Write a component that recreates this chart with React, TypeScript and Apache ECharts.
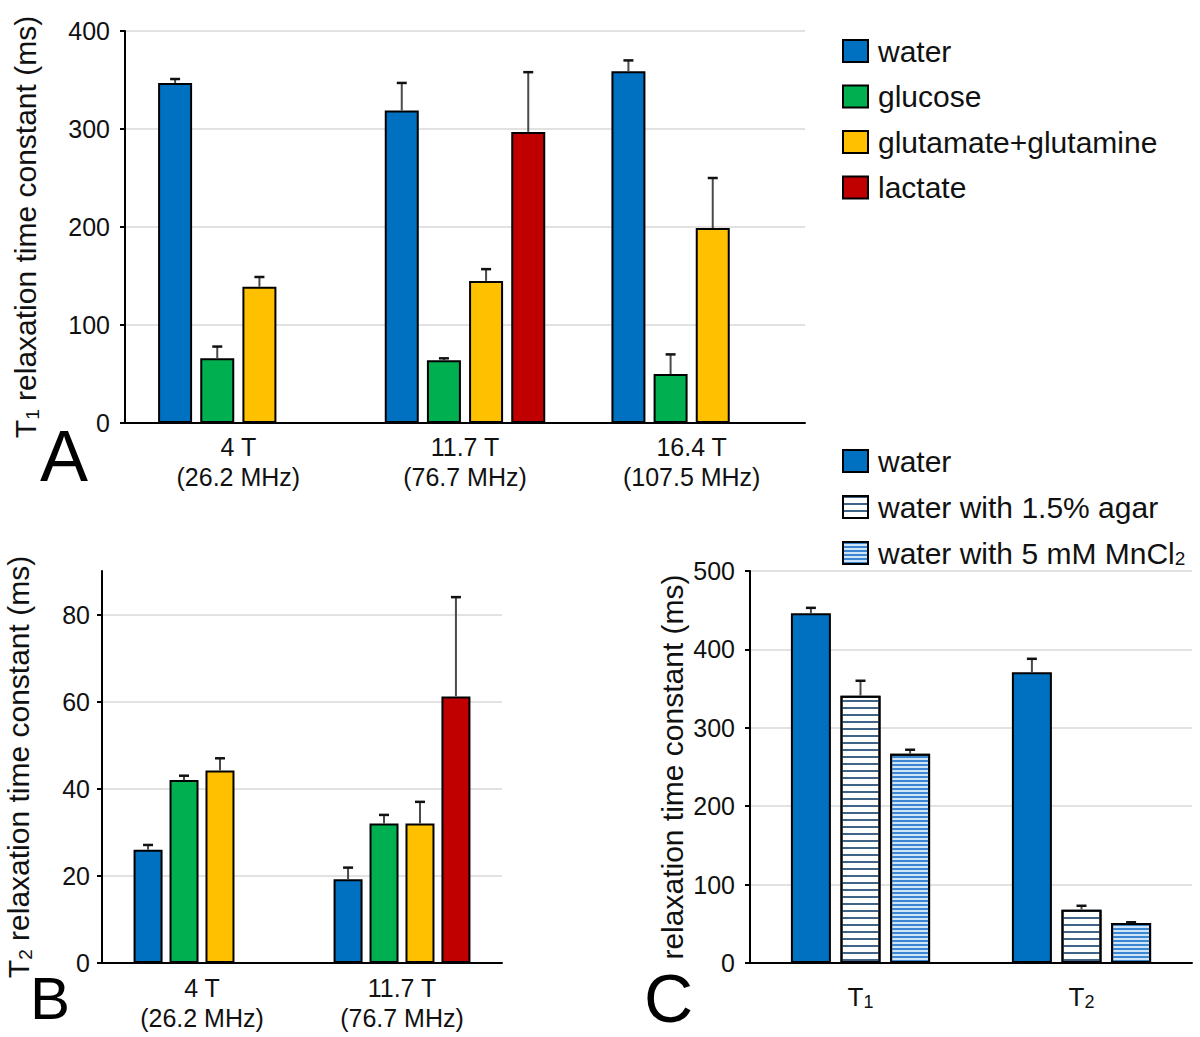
import React, { useEffect, useRef } from "react";
import * as echarts from "echarts";

// ---------- Data ----------
const catsAB = ["4 T\n(26.2 MHz)", "11.7 T\n(76.7 MHz)", "16.4 T\n(107.5 MHz)"];
const catsC = ["T1", "T2"];
const seriesNames = ["water", "glucose", "glutamate+glutamine", "lactate"];
const seriesColors = ["#0070C0", "#00B050", "#FFC000", "#C00000"];

// Panel A: T1 (ms)
const t1Water = [347, 319, 359];
const t1WaterSd = [4, 28, 11];
const t1Glucose = [66, 64, 50];
const t1GlucoseSd = [12, 2, 20];
const t1Glx = [139, 145, 199];
const t1GlxSd = [10, 12, 51];
const t1Lactate: (number | string)[] = ["-", 297, "-"];
const t1LactateSd: (number | null)[] = [null, 61, null];

// Panel B: T2 (ms)
const t2Water = [26, 19.2];
const t2WaterSd = [1.1, 2.7];
const t2Glucose = [42, 32];
const t2GlucoseSd = [1, 2];
const t2Glx = [44.2, 32];
const t2GlxSd = [2.8, 5];
const t2Lactate: (number | string)[] = ["-", 61.2];
const t2LactateSd: (number | null)[] = [null, 22.8];

// Panel C: phantoms (ms)
const phantomNames = ["water", "water with 1.5% agar", "water with 5 mM MnCl2"];
const phWater = [446, 371];
const phWaterSd = [7, 17];
const phAgar = [341, 68];
const phAgarSd = [19, 5];
const phMn = [267, 51];
const phMnSd = [5, 1];

const FONT = "'Liberation Sans', Arial, sans-serif";

function errData(vals: (number | string)[], sds: (number | null)[]) {
  const out: any[] = [];
  vals.forEach((v, i) => {
    const s = sds[i];
    if (typeof v === "number" && s != null) out.push([i, v, v + s]);
  });
  return out;
}

function errSeries(data: any[], gridIdx: number, n: number, idx: number, barW: number, gapRatio: number) {
  return {
    type: "custom",
    xAxisIndex: gridIdx,
    yAxisIndex: gridIdx,
    z: 5,
    silent: true,
    clip: false,
    encode: { x: 0, y: [1, 2] },
    data,
    renderItem: (params: any, api: any) => {
      const cat = api.value(0);
      const v = api.value(1);
      const t = api.value(2);
      const p0 = api.coord([cat, v]);
      const p1 = api.coord([cat, t]);
      const x = p0[0] + (idx - (n - 1) / 2) * (barW * (1 + gapRatio));
      return {
        type: "group",
        children: [
          { type: "line", shape: { x1: x, y1: p0[1], x2: x, y2: p1[1] }, style: { stroke: "#4a4a4a", lineWidth: 2 } },
          { type: "line", shape: { x1: x - 5, y1: p1[1], x2: x + 5, y2: p1[1] }, style: { stroke: "#111", lineWidth: 2.5 } },
        ],
      };
    },
  };
}

const barItem = (color: string, extra: any = {}) => ({ color, borderColor: "#000", borderWidth: 2, ...extra });

export default function App() {
  const ref = useRef<HTMLDivElement>(null);
  useEffect(() => {
    if (!ref.current) return;
    const chart = echarts.init(ref.current, undefined, { renderer: "svg" });

    const valAxisCommon = {
      type: "value",
      axisLine: { show: true, lineStyle: { color: "#000", width: 2 } },
      axisTick: { show: true, length: 5, lineStyle: { color: "#000", width: 2 } },
      axisLabel: { color: "#111", fontSize: 25, fontFamily: FONT, margin: 15 },
      splitLine: { show: true, lineStyle: { color: "#d9d9d9", width: 1.5 } },
      nameLocation: "middle",
      nameRotate: 90,
    };
    const catAxisCommon = {
      type: "category",
      axisLine: { show: true, lineStyle: { color: "#000", width: 2 } },
      axisTick: { show: false },
      axisLabel: { color: "#111", fontSize: 25, fontFamily: FONT, lineHeight: 30, margin: 9 },
    };
    const nameStyle = (gap: number) => ({
      nameGap: gap,
      nameTextStyle: {
        color: "#111",
        fontSize: 30,
        fontFamily: FONT,
        lineHeight: 34,
        rich: {
          t: { fontSize: 30, fontFamily: FONT, color: "#111", lineHeight: 34 },
          s: { fontSize: 19, fontFamily: FONT, color: "#111", lineHeight: 16, verticalAlign: "bottom" },
        },
      },
    });

    const wA = 34, wB = 29, wC = 40, g = 0.24;
    const gapStr = "24%";

    const A = [t1Water, t1Glucose, t1Glx, t1Lactate];
    const Asd = [t1WaterSd, t1GlucoseSd, t1GlxSd, t1LactateSd];
    const B = [t2Water, t2Glucose, t2Glx, t2Lactate];
    const Bsd = [t2WaterSd, t2GlucoseSd, t2GlxSd, t2LactateSd];

    const series: any[] = [];
    A.forEach((d, i) => {
      series.push({
        name: seriesNames[i], type: "bar", xAxisIndex: 0, yAxisIndex: 0,
        data: d, barWidth: wA, barGap: gapStr, itemStyle: barItem(seriesColors[i]),
      });
    });
    A.forEach((d, i) => series.push(errSeries(errData(d as any, Asd[i] as any), 0, 4, i, wA, g)));
    B.forEach((d, i) => {
      series.push({
        name: seriesNames[i], type: "bar", xAxisIndex: 1, yAxisIndex: 1,
        data: d, barWidth: wB, barGap: gapStr, itemStyle: barItem(seriesColors[i]),
      });
    });
    B.forEach((d, i) => series.push(errSeries(errData(d as any, Bsd[i] as any), 1, 4, i, wB, g)));

    const C = [phWater, phAgar, phMn];
    const Csd = [phWaterSd, phAgarSd, phMnSd];
    const cStyles = [
      barItem("#0070C0"),
      barItem("#ffffff", {
        decal: { symbol: "rect", symbolSize: 1, dashArrayX: [1, 0], dashArrayY: [2, 5], rotation: 0, color: "#3f6487" },
      }),
      barItem("#cfe4f8", {
        decal: { symbol: "rect", symbolSize: 1, dashArrayX: [1, 0], dashArrayY: [2, 2], rotation: 0, color: "#3a86d0" },
      }),
    ];
    C.forEach((d, i) => {
      series.push({
        name: phantomNames[i], type: "bar", xAxisIndex: 2, yAxisIndex: 2,
        data: d, barWidth: wC, barGap: gapStr, itemStyle: cStyles[i],
      });
    });
    C.forEach((d, i) => series.push(errSeries(errData(d, Csd[i]), 2, 3, i, wC, g)));

    const legendText = {
      color: "#111", fontSize: 30, fontFamily: FONT, lineHeight: 30, padding: [0, 0, 0, 5],
      rich: { s: { fontSize: 19, fontFamily: FONT, color: "#111", lineHeight: 14, verticalAlign: "bottom" } },
    };

    chart.setOption({
      animation: false,
      backgroundColor: "#ffffff",
      grid: [
        { left: 115, top: 31, width: 690, height: 392 },
        { left: 96, top: 571, width: 406, height: 392 },
        { left: 750, top: 571, width: 442, height: 392 },
      ],
      xAxis: [
        { ...catAxisCommon, gridIndex: 0, data: catsAB },
        { ...catAxisCommon, gridIndex: 1, data: catsAB.slice(0, 2), axisLabel: { ...catAxisCommon.axisLabel, margin: 10 } },
        {
          ...catAxisCommon, gridIndex: 2, data: catsC,
          axisLabel: {
            ...catAxisCommon.axisLabel, margin: 20,
            formatter: (v: string) => "{t|T}{s|" + v.slice(1) + "}",
            rich: {
              t: { fontSize: 26, fontFamily: FONT, color: "#111", lineHeight: 28 },
              s: { fontSize: 18, fontFamily: FONT, color: "#111", lineHeight: 14, verticalAlign: "bottom" },
            },
          },
        },
      ],
      yAxis: [
        { ...valAxisCommon, gridIndex: 0, min: 0, max: 400, interval: 100, name: "{t|T}{s|1} relaxation time constant (ms)", ...nameStyle(83) },
        {
          ...valAxisCommon, gridIndex: 1, min: 0, max: 90, interval: 20,
          axisLabel: { ...valAxisCommon.axisLabel, margin: 12, showMaxLabel: false },
          splitLine: { ...valAxisCommon.splitLine, showMaxLine: false },
          name: "{t|T}{s|2} relaxation time constant (ms)", ...nameStyle(67),
        },
        { ...valAxisCommon, gridIndex: 2, min: 0, max: 500, interval: 100, name: "relaxation time constant (ms)", ...nameStyle(42) },
      ],
      legend: [
        {
          data: seriesNames, orient: "vertical", left: 837, top: 31,
          itemWidth: 25, itemHeight: 22, itemGap: 15.5, icon: "rect",
          textStyle: legendText, selectedMode: false,
        },
        {
          data: phantomNames, orient: "vertical", left: 837, top: 441,
          itemWidth: 25, itemHeight: 22, itemGap: 16, icon: "rect",
          textStyle: legendText, selectedMode: false,
          formatter: (n: string) => (n.endsWith("MnCl2") ? n.slice(0, -1) + "{s|2}" : n),
        },
      ],
      graphic: [
        { type: "text", left: 40, top: 420, style: { text: "A", fontSize: 72, fontFamily: FONT, fill: "#000" } },
        { type: "text", left: 30, top: 968, style: { text: "B", fontSize: 60, fontFamily: FONT, fill: "#000" } },
        { type: "text", left: 644, top: 964, style: { text: "C", fontSize: 68, fontFamily: FONT, fill: "#000" } },
      ],
      series,
    });
    return () => chart.dispose();
  }, []);
  return <div ref={ref} style={{ position: "absolute", left: 0, top: 0, width: 1200, height: 1037 }} />;
}
